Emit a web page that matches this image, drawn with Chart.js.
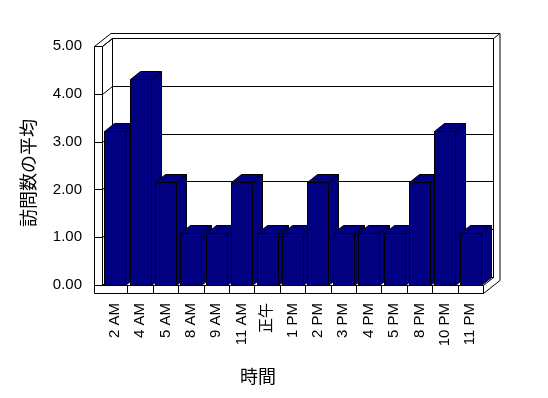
<!DOCTYPE html>
<html>
<head>
<meta charset="utf-8">
<script src="https://cdn.jsdelivr.net/npm/chart.js@4/dist/chart.umd.min.js"></script>
<style>
  html, body { margin: 0; padding: 0; background: #fff; }
  canvas { display: block; }
</style>
</head>
<body>
<canvas id="chart" width="548" height="398"></canvas>
<script>
const hours = ['2 AM', '4 AM', '5 AM', '8 AM', '9 AM', '11 AM', '正午', '1 PM', '2 PM', '3 PM', '4 PM', '5 PM', '8 PM', '10 PM', '11 PM'];
const avgVisits = [3.23, 4.31, 2.15, 1.08, 1.08, 2.15, 1.08, 1.08, 2.15, 1.08, 1.08, 1.08, 2.15, 3.23, 1.08];
const yTicks = [0, 1, 2, 3, 4, 5];
const yTitle = '訪問数の平均';
const xTitle = '時間';

// 3d look of the old spreadsheet chart
const DX = 10, DY = 8;      // depth of floor / bars
const WALL = 8;             // left wall + floor thickness
const BX = 6.5, BY = 5;     // back wall thickness
const NAVY = '#000080';

function poly(ctx, pts, fill) {
  ctx.beginPath();
  ctx.moveTo(pts[0][0], pts[0][1]);
  for (let i = 1; i < pts.length; i++) ctx.lineTo(pts[i][0], pts[i][1]);
  if (fill) {
    ctx.closePath();
    ctx.fill();
  }
  ctx.stroke();
}

const walls = {
  id: 'walls',
  beforeDatasetsDraw(chart) {
    const ctx = chart.ctx;
    const { left: l, right: r, top: t, bottom: b } = chart.chartArea;
    const xs = chart.scales.x, ys = chart.scales.y;
    const tx = DX + BX, ty = DY + BY;
    ctx.save();
    ctx.translate(0.5, 0.5);
    ctx.strokeStyle = '#000';
    ctx.fillStyle = '#fff';
    ctx.lineWidth = 1;

    // outline of walls and floor
    poly(ctx, [[l - WALL, t], [l - WALL + tx, t - ty], [r + tx, t - ty], [r + tx, b + WALL - ty], [r, b + WALL], [l - WALL, b + WALL]], true);
    poly(ctx, [[l - WALL, t], [l, t], [l + DX, t - DY], [r + DX, t - DY], [r + tx, t - ty]]);
    poly(ctx, [[l, t], [l, b], [r, b], [r, b + WALL]]);
    poly(ctx, [[l + DX, t - DY], [l + DX, b - DY], [r + DX, b - DY], [r + DX, t - DY]]);
    poly(ctx, [[l, b], [l + DX, b - DY]]);
    poly(ctx, [[r, b], [r + DX, b - DY]]);

    // gridlines on the walls
    yTicks.forEach(v => {
      const y = Math.round(ys.getPixelForValue(v));
      poly(ctx, [[l - WALL, y], [l, y], [l + DX, y - DY], [r + DX, y - DY]]);
    });

    // category separators on the floor front
    for (let i = 0; i < hours.length - 1; i++) {
      const x = Math.round((xs.getPixelForValue(i) + xs.getPixelForValue(i + 1)) / 2);
      poly(ctx, [[x, b], [x, b + WALL]]);
    }
    ctx.restore();
  }
};

const bars3d = {
  id: 'bars3d',
  afterDatasetsDraw(chart) {
    const ctx = chart.ctx;
    ctx.save();
    ctx.translate(0.5, 0.5);
    ctx.strokeStyle = '#000';
    ctx.fillStyle = NAVY;
    ctx.lineWidth = 1;
    chart.getDatasetMeta(0).data.forEach(bar => {
      const { x, y, base, width } = bar.getProps(['x', 'y', 'base', 'width'], true);
      const x0 = Math.round(x - width / 2), x1 = Math.round(x + width / 2);
      const y0 = Math.round(y), y1 = Math.round(base);
      poly(ctx, [[x1, y0], [x1 + DX, y0 - DY], [x1 + DX, y1 - DY], [x1, y1]], true);
      poly(ctx, [[x0, y0], [x0 + DX, y0 - DY], [x1 + DX, y0 - DY], [x1, y0]], true);
      poly(ctx, [[x0, y0], [x1, y0], [x1, y1], [x0, y1]], true);
    });
    ctx.restore();
  }
};

const titles = {
  id: 'titles',
  afterDraw(chart) {
    const ctx = chart.ctx;
    ctx.save();
    ctx.fillStyle = '#000';
    ctx.font = '18px "Noto Sans CJK JP"';
    ctx.textAlign = 'center';
    ctx.textBaseline = 'middle';
    ctx.fillText(xTitle, 258, 376);
    ctx.translate(28, 173);
    ctx.rotate(-Math.PI / 2);
    ctx.fillText(yTitle, 0, 0);
    ctx.restore();
  }
};

Chart.defaults.font.family = '"Liberation Sans", "Noto Sans CJK JP", sans-serif';
Chart.defaults.font.size = 15;
Chart.defaults.color = '#000';

new Chart(document.getElementById('chart'), {
  type: 'bar',
  data: {
    labels: hours,
    datasets: [{
      label: yTitle,
      data: avgVisits,
      backgroundColor: 'rgba(0,0,0,0)',
      borderWidth: 0,
      barPercentage: 0.82,
      categoryPercentage: 1
    }]
  },
  options: {
    responsive: false,
    animation: false,
    events: [],
    layout: { padding: { left: 0, right: 65, top: 46, bottom: 0 } },
    plugins: {
      legend: { display: false },
      tooltip: { enabled: false }
    },
    scales: {
      x: {
        grid: { display: false, drawTicks: false },
        border: { display: false },
        ticks: { minRotation: 90, maxRotation: 90, autoSkip: false, padding: 18 },
        afterFit(scale) { scale.height = 113; }
      },
      y: {
        min: 0,
        max: 5,
        grid: { display: false, drawTicks: false },
        border: { display: false },
        ticks: { stepSize: 1, padding: 20, callback: v => v.toFixed(2) },
        afterFit(scale) { scale.width = 102; }
      }
    }
  },
  plugins: [walls, bars3d, titles]
});
</script>
</body>
</html>
